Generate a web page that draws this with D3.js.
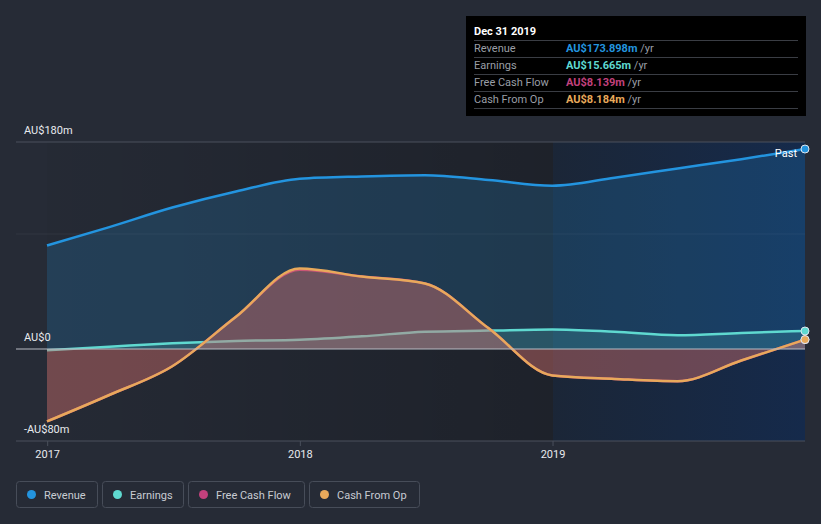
<!DOCTYPE html>
<html>
<head>
<meta charset="utf-8">
<script src="https://cdn.jsdelivr.net/npm/d3@7"></script>
<style>
  html, body { margin: 0; padding: 0; background: #262b36; }
  svg { display: block; font-family: Roboto, "Noto Sans", sans-serif; }
</style>
</head>
<body>
<svg id="chart" width="821" height="524"></svg>
<script>
// quarterly points, Dec 2016 .. Dec 2019 (AU$ m)
const dates = ["2016-12-31", "2017-03-31", "2017-06-30", "2017-09-30", "2017-12-31",
  "2018-03-31", "2018-06-30", "2018-09-30", "2018-12-31",
  "2019-03-31", "2019-06-30", "2019-09-30", "2019-12-31"];
const revenue = [90, 106, 123, 137, 148, 150, 151, 147, 142, 149, 157, 165, 173.898];
const earnings = [-1, 2, 5, 7, 8, 11, 15, 16, 17, 15, 12, 14, 15.665];
const freeCashFlow = [-63, -40, -15, 28, 69, 63, 57, 18, -23, -26, -28, -10, 8.139];
const cashFromOp = [-63, -40, -15, 28, 70, 63, 57, 18, -23, -26, -28, -10, 8.184];
const yTicks = [180, 0, -80];
const yTickLabels = ["AU$180m", "AU$0", "-AU$80m"];
const xTicks = ["2017", "2018", "2019"];

const series = [
  { name: "Revenue", values: revenue, color: "#2394df", fill: 0.2, tip: "AU$173.898m" },
  { name: "Earnings", values: earnings, color: "#5fd9d0", fill: 0.18, tip: "AU$15.665m" },
  { name: "Free Cash Flow", values: freeCashFlow, color: "#c2417d", fill: 0.3, tip: "AU$8.139m" },
  { name: "Cash From Op", values: cashFromOp, color: "#e8a95b", fill: 0.2, tip: "AU$8.184m" }
];

const parse = d3.timeParse("%Y-%m-%d");
const dts = dates.map(parse);

const svg = d3.select("#chart");
const plotL = 47, plotR = 805, plotT = 142, plotB = 441;

const x = d3.scaleTime().domain([dts[0], dts[dts.length - 1]]).range([plotL, plotR]);
const y = d3.scaleLinear().domain([-80, 180]).range([plotB, plotT]);
const pastX = x(parse("2019-01-01"));

// backgrounds
const defs = svg.append("defs");
const g1 = defs.append("linearGradient").attr("id", "bgLeft");
g1.append("stop").attr("offset", "0%").attr("stop-color", "#000").attr("stop-opacity", 0.03);
g1.append("stop").attr("offset", "100%").attr("stop-color", "#000").attr("stop-opacity", 0.22);
const g2 = defs.append("linearGradient").attr("id", "bgRight");
g2.append("stop").attr("offset", "0%").attr("stop-color", "#1b2637");
g2.append("stop").attr("offset", "100%").attr("stop-color", "#152a4b");

svg.append("rect").attr("x", plotL).attr("y", plotT).attr("width", pastX - plotL)
  .attr("height", plotB - plotT).attr("fill", "url(#bgLeft)");
svg.append("rect").attr("x", pastX).attr("y", plotT).attr("width", plotR - pastX)
  .attr("height", plotB - plotT).attr("fill", "url(#bgRight)");

// grid
svg.append("line").attr("x1", 16).attr("x2", plotR).attr("y1", y(180)).attr("y2", y(180))
  .attr("stroke", "#4a505c").attr("stroke-width", 1);
svg.append("line").attr("x1", 16).attr("x2", plotR).attr("y1", y(100)).attr("y2", y(100))
  .attr("stroke", "#ffffff").attr("stroke-opacity", 0.06).attr("stroke-width", 1);

// areas and lines
const area = d3.area().x((d, i) => x(dts[i])).y0(y(0)).y1(d => y(d)).curve(d3.curveMonotoneX);
const line = d3.line().x((d, i) => x(dts[i])).y(d => y(d)).curve(d3.curveMonotoneX);

series.forEach(s => {
  svg.append("path").attr("d", area(s.values)).attr("fill", s.color).attr("fill-opacity", s.fill);
  svg.append("path").attr("d", line(s.values)).attr("fill", "none")
    .attr("stroke", s.color).attr("stroke-width", 2.5);
});

// zero line
svg.append("line").attr("x1", 16).attr("x2", plotR).attr("y1", y(0)).attr("y2", y(0))
  .attr("stroke", "#b8bcc4").attr("stroke-width", 1.2);

// end markers
series.forEach(s => {
  svg.append("circle").attr("cx", plotR).attr("cy", y(s.values[s.values.length - 1]))
    .attr("r", 4).attr("fill", s.color).attr("stroke", "#dfe6ee").attr("stroke-width", 1);
});
svg.append("text").attr("x", 797).attr("y", 157).attr("text-anchor", "end")
  .attr("fill", "#fff").attr("font-size", 11).text("Past");

// y labels
yTicks.forEach((v, i) => {
  svg.append("text").attr("x", 24).attr("y", y(v) - 8).attr("fill", "#e8eaee")
    .attr("font-size", 11).text(yTickLabels[i]);
});

// x axis
svg.append("line").attr("x1", 16).attr("x2", plotR).attr("y1", plotB).attr("y2", plotB)
  .attr("stroke", "#4a505c");
xTicks.forEach(t => {
  const px = x(parse(t + "-01-01"));
  svg.append("line").attr("x1", px).attr("x2", px).attr("y1", plotB).attr("y2", plotB + 5)
    .attr("stroke", "#4a505c");
  svg.append("text").attr("x", px).attr("y", 458).attr("text-anchor", "middle")
    .attr("fill", "#e8eaee").attr("font-size", 11).text(t);
});

// legend
const legendW = [81, 81, 116, 110];
let lx = 16;
series.forEach((s, i) => {
  const g = svg.append("g").attr("transform", `translate(${lx},481)`);
  g.append("rect").attr("x", 0.5).attr("y", 0.5).attr("width", legendW[i]).attr("height", 26)
    .attr("rx", 3).attr("fill", "none").attr("stroke", "#474d59");
  g.append("circle").attr("cx", 15.5).attr("cy", 13.5).attr("r", 4.5).attr("fill", s.color);
  g.append("text").attr("x", 28).attr("y", 17.5).attr("fill", "#c8ccd3").attr("font-size", 11)
    .text(s.name);
  lx += legendW[i] + 5;
});

// tooltip
const tip = svg.append("g");
tip.append("rect").attr("x", 466).attr("y", 16).attr("width", 340).attr("height", 100).attr("fill", "#000");
tip.append("text").attr("x", 474).attr("y", 35).attr("fill", "#fff").attr("font-size", 11)
  .attr("font-weight", "bold").text("Dec 31 2019");
series.forEach((s, i) => {
  const ry = 40.5 + i * 17;
  tip.append("line").attr("x1", 474).attr("x2", 798).attr("y1", ry).attr("y2", ry)
    .attr("stroke", "#3a3d44");
  tip.append("text").attr("x", 474).attr("y", ry + 11.5).attr("fill", "#9a9ea6")
    .attr("font-size", 11).text(s.name);
  const t = tip.append("text").attr("x", 566).attr("y", ry + 11.5).attr("font-size", 11);
  t.append("tspan").attr("fill", s.color).attr("font-weight", "bold").text(s.tip);
  t.append("tspan").attr("fill", "#9a9ea6").text(" /yr");
});
tip.append("line").attr("x1", 474).attr("x2", 798).attr("y1", 108.5).attr("y2", 108.5)
  .attr("stroke", "#3a3d44");
</script>
</body>
</html>
